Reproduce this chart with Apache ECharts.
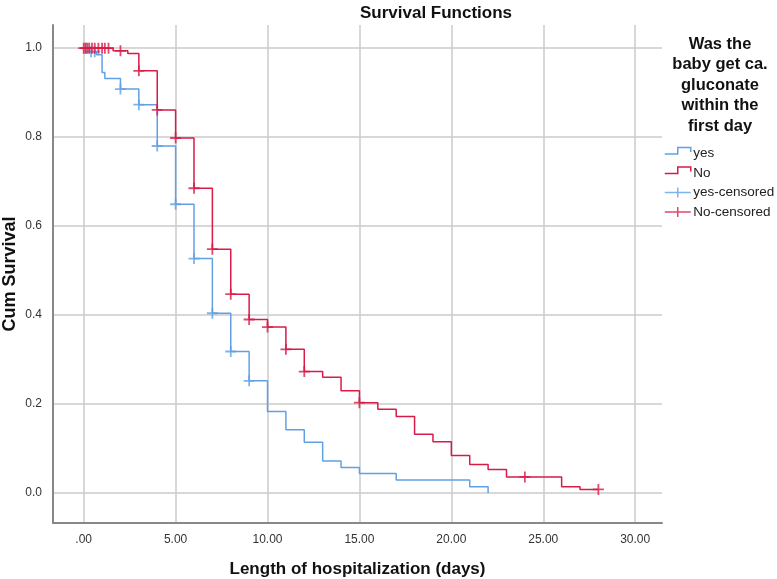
<!DOCTYPE html>
<html>
<head>
<meta charset="utf-8">
<script src="https://cdn.jsdelivr.net/npm/echarts@6/dist/echarts.min.js"></script>
<style>html,body{margin:0;padding:0;background:#fff}#c{width:777px;height:579px}</style>
</head>
<body>
<div id="c"></div>
<script>
// Kaplan-Meier step data: [day, cumulative survival]
var yesTimes = [0, 0.3, 0.7, 1.0, 1.15, 2, 3, 4, 5, 6, 7, 8, 9, 10, 11, 12, 13, 14, 15, 17, 21, 22];
var yesSurv  = [1.0, 0.992, 0.985, 0.945, 0.932, 0.908, 0.873, 0.780, 0.649, 0.527, 0.404, 0.318, 0.252, 0.183, 0.142, 0.114, 0.072, 0.057, 0.044, 0.029, 0.014, 0.0];
var noTimes  = [0, 1.6, 2.4, 3, 4, 5, 6, 7, 8, 9, 10, 11, 12, 13, 14, 15, 16, 17, 18, 19, 20, 21, 22, 23, 26, 27, 28];
var noSurv   = [1.0, 0.994, 0.988, 0.949, 0.861, 0.798, 0.685, 0.548, 0.447, 0.390, 0.373, 0.323, 0.273, 0.260, 0.230, 0.203, 0.188, 0.172, 0.132, 0.115, 0.084, 0.064, 0.053, 0.036, 0.014, 0.008, 0.008];
var yesCensTimes = [0.1, 0.4, 0.6, 2, 3, 4, 5, 6, 7, 8, 9];
var yesCensSurv  = [1.0, 0.992, 0.992, 0.908, 0.873, 0.780, 0.649, 0.527, 0.404, 0.318, 0.252];
var noCensTimes  = [0.0, 0.1, 0.2, 0.3, 0.45, 0.6, 0.8, 1.0, 1.15, 1.35, 2, 3, 4, 5, 6, 7, 8, 9, 10, 11, 12, 15, 24, 28];
var noCensSurv   = [1.0, 1.0, 1.0, 1.0, 1.0, 1.0, 1.0, 1.0, 1.0, 1.0, 0.994, 0.949, 0.861, 0.798, 0.685, 0.548, 0.447, 0.390, 0.373, 0.323, 0.273, 0.203, 0.036, 0.008];
var xTicks = [0, 5, 10, 15, 20, 25, 30];
var yTicks = [0, 0.2, 0.4, 0.6, 0.8, 1.0];

function pairs(a, b) { return a.map(function (v, i) { return [v, b[i]]; }); }

var BLUE = '#62a0e6';
var RED = '#d81b47';
var FONT = "'Liberation Sans', Arial, sans-serif";
var stepIcon = 'path://M0,12 M0,6.5 L13,6.5 L13,0 L26,0 L26,4.5';
var plusIcon = 'path://M0,0 M0,12 M0,6 L26,6 M13,1 L13,11';
var plusSym = 'path://M0,-1 L0,1 M-1,0 L1,0';

function legendItem(name, icon, color) {
  return {name: name, icon: icon,
    itemStyle: {color: 'transparent', borderColor: color, borderWidth: 1.5},
    lineStyle: {opacity: 0, width: 0}};
}

var chart = echarts.init(document.getElementById('c'), null, {renderer: 'canvas'});
chart.setOption({
  animation: false,
  backgroundColor: '#fff',
  title: [
    {text: 'Survival Functions', left: 431, top: 0, textAlign: 'center',
     textStyle: {fontFamily: FONT, fontSize: 17, fontWeight: 'bold', color: '#111'}},
    {text: 'Was the\nbaby get ca.\ngluconate\nwithin the\nfirst day', left: 715, top: 29, textAlign: 'center',
     textStyle: {fontFamily: FONT, fontSize: 16.5, fontWeight: 'bold', color: '#111', lineHeight: 20.5, align: 'center'}}
  ],
  legend: {
    orient: 'vertical', left: 659, top: 141.5, itemGap: 5.5, itemWidth: 27, itemHeight: 12,
    textStyle: {fontFamily: FONT, fontSize: 13.5, color: '#222', padding: [0, 0, 0, -3]},
    data: [
      legendItem('yes', stepIcon, BLUE),
      legendItem('No', stepIcon, RED),
      legendItem('yes-censored', plusIcon, BLUE),
      legendItem('No-censored', plusIcon, RED)
    ]
  },
  grid: {left: 53, right: 115, top: 25, bottom: 56, outerBoundsMode: 'none', containLabel: false},
  xAxis: {
    type: 'value', min: -1.67, max: 31.46,
    name: 'Length of hospitalization (days)', nameLocation: 'middle', nameGap: 38,
    nameTextStyle: {fontFamily: FONT, fontSize: 17, fontWeight: 'bold', color: '#111'},
    axisLine: {show: true, onZero: false, lineStyle: {color: '#888', width: 2}},
    axisTick: {show: false, customValues: xTicks},
    axisLabel: {customValues: xTicks, fontFamily: FONT, fontSize: 12, color: '#333', margin: 11,
      formatter: function (v) { return v === 0 ? '.00' : v.toFixed(2); }},
    splitLine: {show: true, lineStyle: {color: '#cbcbcb', width: 1.5}}
  },
  yAxis: {
    type: 'value', min: -0.0675, max: 1.052,
    name: 'Cum Survival', nameLocation: 'middle', nameGap: 34, nameRotate: 90, nameMoveOverlap: false,
    nameTextStyle: {fontFamily: FONT, fontSize: 18, fontWeight: 'bold', color: '#111'},
    axisLine: {show: true, onZero: false, lineStyle: {color: '#888', width: 2}},
    axisTick: {show: false, customValues: yTicks},
    axisLabel: {customValues: yTicks, fontFamily: FONT, fontSize: 12, color: '#333', margin: 11,
      formatter: function (v) { return v.toFixed(1); }},
    splitLine: {show: true, lineStyle: {color: '#cbcbcb', width: 1.5}}
  },
  series: [
    {name: 'yes', type: 'line', step: 'end', data: pairs(yesTimes, yesSurv), showSymbol: false,
     color: BLUE, lineStyle: {color: BLUE, width: 1.5}, z: 3},
    {name: 'No', type: 'line', step: 'end', data: pairs(noTimes, noSurv), showSymbol: false,
     color: RED, lineStyle: {color: RED, width: 1.5}, z: 4},
    {name: 'yes-censored', type: 'scatter', data: pairs(yesCensTimes, yesCensSurv), symbol: plusSym, symbolSize: 11,
     color: BLUE, itemStyle: {color: 'transparent', borderColor: BLUE, borderWidth: 1.8}, z: 5},
    {name: 'No-censored', type: 'scatter', data: pairs(noCensTimes, noCensSurv), symbol: plusSym, symbolSize: 11,
     color: RED, itemStyle: {color: 'transparent', borderColor: RED, borderWidth: 1.8}, z: 6}
  ]
});
</script>
</body>
</html>
